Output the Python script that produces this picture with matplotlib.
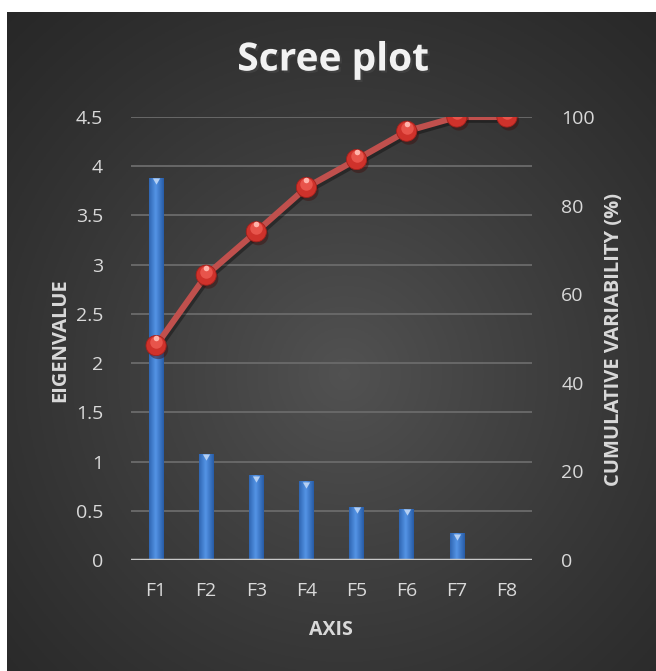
import numpy as np
import matplotlib
matplotlib.use("Agg")
import matplotlib.pyplot as plt
import matplotlib.patheffects as pe

plt.rcParams['font.family'] = ['Open Sans', 'DejaVu Sans']

# ---- data ----
axes_labels = ["F1", "F2", "F3", "F4", "F5", "F6", "F7", "F8"]
eigenvalues = [3.88, 1.08, 0.86, 0.80, 0.54, 0.52, 0.27, 0.01]
cumulative = [48.4, 64.3, 74.1, 84.1, 90.4, 96.8, 100.0, 100.0]
left_ticks = [0, 0.5, 1, 1.5, 2, 2.5, 3, 3.5, 4, 4.5]
left_ticklabels = ["0", "0.5", "1", "1.5", "2", "2.5", "3", "3.5", "4", "4.5"]
right_ticks = [0, 20, 40, 60, 80, 100]

W, H = 656, 671
fig = plt.figure(figsize=(W / 100, H / 100), dpi=100)
fig.patch.set_facecolor("white")

# dark panel with a soft radial glow
bg = fig.add_axes([7 / W, 0, 1 - 7 / W, 1 - 12 / H])
bg.set_axis_off()
yy, xx = np.mgrid[0:1:300j, 0:1:300j]
r = np.sqrt(((xx - 0.52) / 0.8) ** 2 + ((yy - 0.55) / 0.8) ** 2)
v = np.clip(1 - r, 0, 1) ** 1.2
shade = 0.15 + 0.17 * v
img = np.dstack([shade, shade, shade])
bg.imshow(img, extent=[0, 1, 0, 1], aspect="auto", origin="upper")
bg.set_xlim(0, 1)
bg.set_ylim(0, 1)

# plot area
x0, x1 = 131 / W, 532 / W
y0, y1 = (H - 560) / H, (H - 117) / H
ax = fig.add_axes([x0, y0, x1 - x0, y1 - y0])
ax.patch.set_alpha(0)
ax2 = ax.twinx()
ax2.patch.set_alpha(0)

xpos = np.arange(len(axes_labels))

# gridlines
for t in left_ticks[1:]:
    ax.axhline(t, color="#686868", lw=1.4, zorder=0)
ax.axhline(0, color="#c8c8c8", lw=2.5, zorder=3)

# bars with a cylinder-like shading
bw = 0.29
bars = ax.bar(xpos, eigenvalues, width=bw, color="#2f6cc0", zorder=2,
              edgecolor="none")
grad = np.linspace(0, 1, 64)
prof = np.clip(1 - np.abs(grad - 0.45) * 1.6, 0, 1)
c_dark = np.array([0.13, 0.33, 0.62])
c_light = np.array([0.33, 0.58, 0.90])
gimg = c_dark[None, None, :] + (c_light - c_dark)[None, None, :] * prof[None, :, None]
gimg = np.repeat(gimg, 2, axis=0)
for b, val in zip(bars, eigenvalues):
    x = b.get_x()
    im = ax.imshow(gimg, extent=[x, x + bw, 0, val], aspect="auto",
                   zorder=2.1, interpolation="bilinear")
    im.set_clip_path(b)
    if val > 0.05:
        ax.plot(x + bw / 2, val - 0.025, marker=(3, 0, 180), ms=6,
                color="#b5d0f3", mec="none", zorder=2.2)
ax.set_xlim(-0.5, len(axes_labels) - 0.5)
ax.set_ylim(0, 4.5)
ax2.set_ylim(0, 100)

# cumulative variability line with spherical markers
shadow = [pe.SimpleLineShadow(offset=(1.5, -2), shadow_color="black", alpha=0.35),
          pe.Normal()]
ax2.plot(xpos, cumulative, color="#c0504d", lw=4.4, zorder=4,
         path_effects=shadow, solid_capstyle="round")
ax2.plot(xpos, cumulative, ls="none", marker="o", ms=14.5, color="#cf322b",
         mec="#a5201b", mew=0.6, zorder=5,
         path_effects=[pe.SimplePatchShadow(offset=(1.5, -2.5), alpha=0.45),
                       pe.Normal()])
ax2.plot(xpos, np.array(cumulative) + 0.8, ls="none", marker="o", ms=9,
         color="#e8544b", mec="none", zorder=6)
ax2.plot(xpos, np.array(cumulative) + 1.7, ls="none", marker="o", ms=4,
         color="#ffb3aa", mec="none", zorder=7)

# axes styling
label_color = "#d9d9d9"
for a in (ax, ax2):
    for s in a.spines.values():
        s.set_visible(False)
ax.set_yticks(left_ticks)
ax.set_yticklabels(left_ticklabels)
ax.tick_params(axis="y", length=0, pad=20, labelsize=14, labelcolor=label_color)
ax.set_xticks(xpos)
ax.set_xticklabels(axes_labels)
ax.tick_params(axis="x", length=0, pad=16, labelsize=14, labelcolor=label_color)
ax2.set_yticks(right_ticks)
ax2.tick_params(axis="y", length=0, pad=21, labelsize=14, labelcolor=label_color)

fig.text(60 / W, 1 - 340 / H, "EIGENVALUE", rotation=90, ha="center", va="center",
         fontsize=14.5, fontweight="bold", color=label_color)
fig.text(614 / W, 1 - 340 / H, "CUMULATIVE VARIABILITY (%)", rotation=90,
         ha="center", va="center", fontsize=14.5, fontweight="bold", color=label_color)
fig.text(331 / W, 1 - 630 / H, "AXIS", ha="center", va="center",
         fontsize=14, fontweight="bold", color=label_color)
fig.text(333 / W, 1 - 60 / H, "Scree plot", ha="center", va="center",
         fontsize=28, fontweight="bold", color="#f2f2f2",
         path_effects=[pe.withSimplePatchShadow(offset=(1.5, -1.5), alpha=0.6)])

fig.savefig("out.png", dpi=100, facecolor=fig.get_facecolor())
